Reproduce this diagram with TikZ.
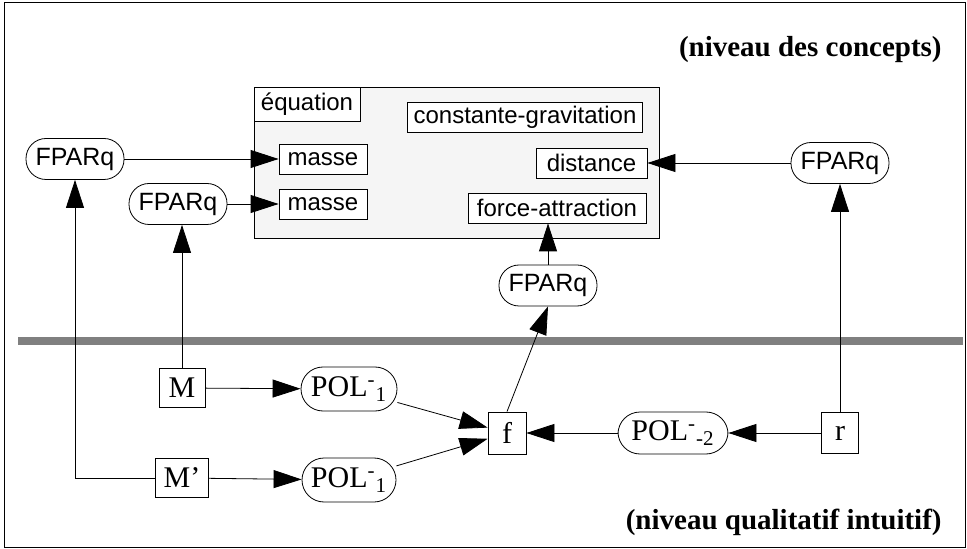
\documentclass[tikz,border=0pt]{standalone}
\usepackage{fontspec}
\setmainfont{Liberation Serif}
\newfontfamily\helv{Liberation Sans}
\usetikzlibrary{arrows.meta}

\tikzset{
	concept/.style={draw, fill=white, font=\helv\fontsize{12}{14}\selectfont, inner sep=0pt, minimum height=15pt},
	fparq/.style={draw, fill=white, rounded corners=10pt, font=\helv\fontsize{12.5}{14}\selectfont, inner sep=0pt, minimum width=49pt, minimum height=20.5pt},
	pol/.style={draw, rounded corners=11pt, font=\fontsize{15}{17}\selectfont, inner sep=0pt, minimum height=22pt},
	var/.style={draw, font=\fontsize{15}{17}\selectfont, inner sep=0pt, minimum height=19.5pt},
	niveau/.style={font=\bfseries\fontsize{14.5}{17}\selectfont, anchor=east, inner sep=0pt},
}

\begin{document}
\begin{tikzpicture}[x=0.5pt, y=-0.5pt, ->, >={Triangle[length=14pt,width=9pt]}]
	\useasboundingbox (0,0) rectangle (967,549);
	\draw[-] (4,2) rectangle (965,547);
	\draw[-, line width=4pt, black!50] (18,341) -- (963,341);
	% niveau des concepts
	\draw[-, fill=black!4] (254,87) rectangle (659,238);
	\node[concept, minimum width=53pt, minimum height=17pt] (equation) at (307,104) {équation};
	\node[concept, minimum width=117.5pt] (gravitation) at (525,117) {constante-gravitation};
	\node[concept, minimum width=55.5pt] (distance) at (591.5,163) {distance};
	\node[concept, minimum width=89pt] (force) at (557,208) {force-attraction};
	\node[concept, minimum width=44pt] (masse_1) at (323,159) {masse};
	\node[concept, minimum width=44pt] (masse_2) at (323,204) {masse};
	\node[fparq] (F_1) at (75,159) {FPARq};
	\node[fparq] (F_2) at (178,204) {FPARq};
	\node[fparq] (F_r) at (840,163) {FPARq};
	\node[fparq] (F_f) at (548,285.5) {FPARq};
	\node[niveau] (L_c) at (942,50) {(niveau des concepts)};
	% niveau qualitatif
	\node[var, minimum width=23pt] (M) at (182,388) {M};
	\node[var, minimum width=26.5pt] (M') at (182,478) {M'};
	\node[pol, minimum width=48pt] (P_1) at (349,389) {POL\textsuperscript{-}\textsubscript{1}};
	\node[pol, minimum width=47pt] (P_2) at (349,480) {POL\textsuperscript{-}\textsubscript{1}};
	\node[var, minimum width=19pt, minimum height=21pt] (f) at (507,433) {f};
	\node[pol, minimum width=55pt, minimum height=21pt] (P_3) at (673,433) {POL\textsuperscript{-}\textsubscript{-2}};
	\node[var, minimum width=18.5pt, minimum height=20.5pt] (r) at (840,433) {r};
	\node[niveau] (L_q) at (942,522) {(niveau qualitatif intuitif)};
	\draw (F_1) -- (masse_1);
	\draw (F_2) -- (masse_2);
	\draw (F_r) -- (distance);
	\draw (F_f.north) -- (F_f.north |- force.south);
	\draw (M) -- (P_1);
	\draw (M') -- (P_2);
	\draw (P_1) -- (f);
	\draw (P_2) -- (f);
	\draw (r) -- (P_3);
	\draw (P_3) -- (f);
	\draw (f.north) -- (F_f.south);
	\draw (r) -- (F_r);
	\draw (M.north) -- (M.north |- F_2.south);
	\draw (M'.west) -| (F_1.south);
\end{tikzpicture}
\end{document}
